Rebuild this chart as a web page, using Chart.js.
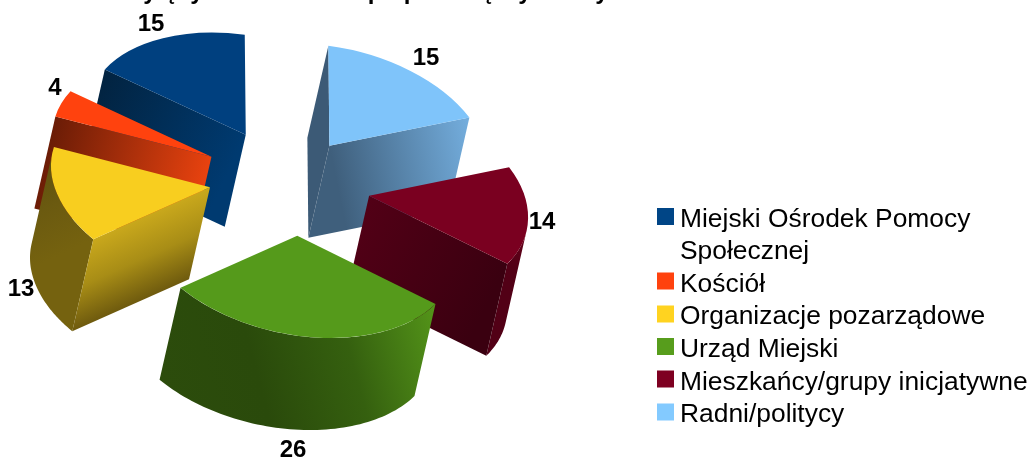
<!DOCTYPE html>
<html><head><meta charset="utf-8">
<style>html,body{margin:0;padding:0;background:#fff}canvas{display:block}</style>
<script src="https://cdn.jsdelivr.net/npm/chart.js@4"></script></head>
<body><canvas id="c" width="1030" height="459"></canvas>
<script>
const categories=["Miejski Ośrodek Pomocy Społecznej","Kościół","Organizacje pozarządowe","Urząd Miejski","Mieszkańcy/grupy inicjatywne","Radni/politycy"];
const values=[15,4,13,26,14,15];
const colors=["#004586","#ff420e","#ffd320","#579d1c","#7e0021","#83caff"];
const legendLines=[["Miejski Ośrodek Pomocy","Społecznej"],["Kościół"],["Organizacje pozarządowe"],["Urząd Miejski"],["Mieszkańcy/grupy inicjatywne"],["Radni/politycy"]];
// only the descenders of the cropped title remain visible in the picture
const titleFragments=[["y",150],["ę",170],["y",197],["p",375],["p",411],["ę",487],["y",525],["y",602]];

// single view projection of the pie: plane -> screen (mirrored, tilted)
const view={a:-159,b:-21,c:1,d:100,ex:288,ey:184,explode:0.51,depthX:-21,depthY:92};
const labelAt=[[151,24],[55,88],[21,289],[293,450],[542,222],[426,58]];
const topShade=["#00407f","#ff420e","#f8ce1f","#559a1b","#7a0020","#7fc4fa"];
const sideShade=[
 {end:["#022340","#003a70"],start:["#00305c","#00305c"],outer:["#012a50","#012a50"]},
 {end:["#6a1c06","#e8420f"],start:["#6a1c06","#e8420f"],outer:["#7a2008","#7a2008"]},
 {end:["#c9a81c","#a88d16","#6e5a0e"],start:["#7a640e","#7a640e"],outer:["#5e4e0e","#6b5a10","#75620f"],depthFace:true},
 {end:["#2c4c0c","#2c4c0c"],start:["#2c4c0c","#2c4c0c"],outer:["#2c4c0c","#2a4a0b","#35600f","#549519"],fromBottom:true},
 {end:["#3a0010","#520016"],start:["#3a0010","#520016"],outer:["#520016","#660019"]},
 {end:["#3c5a76","#3c5a76"],start:["#74aede","#3f5f7c"],outer:["#74aede","#74aede"]}
];
const drawOrder=[0,5,1,2,4,3];
const legendRows=[[216.5,220,252],[281,285],[314,317],[346.5,350],[379,383],[412,415]];

function toScreen(arc){
 const R=arc.outerRadius,m=(arc.startAngle+arc.endAngle)/2;
 return {R,p:(x,y)=>{const u=(x-arc.x)/R+Math.cos(m)*view.explode,v=(y-arc.y)/R+Math.sin(m)*view.explode;
  return [view.ex+view.a*u+view.c*v,view.ey+view.b*u+view.d*v];}};
}
function gradient(ctx,q,r,stops){
 const g=ctx.createLinearGradient(q[0],q[1],r[0],r[1]);
 stops.forEach((c,j)=>g.addColorStop(stops.length>1?j/(stops.length-1):0,c));
 return g;
}
function fillBand(ctx,run,fill){
 const D=[view.depthX,view.depthY];
 ctx.beginPath();ctx.moveTo(run[0][0],run[0][1]);
 run.slice(1).forEach(q=>ctx.lineTo(q[0],q[1]));
 run.slice().reverse().forEach(q=>ctx.lineTo(q[0]+D[0],q[1]+D[1]));
 ctx.closePath();ctx.fillStyle=fill;ctx.fill();
}
const pie3d={id:'pie3d',
 beforeDatasetDraw(chart){
  const ctx=chart.ctx,meta=chart.getDatasetMeta(0),D=[view.depthX,view.depthY];
  drawOrder.forEach(i=>{
   const arc=meta.data[i],{p,R}=toScreen(arc),N=64,pts=[];
   for(let s=0;s<=N;s++){const t=arc.startAngle+(arc.endAngle-arc.startAngle)*s/N;pts.push(p(arc.x+R*Math.cos(t),arc.y+R*Math.sin(t)));}
   const apex=p(arc.x,arc.y),poly=[apex,...pts];
   let area=0;poly.forEach((q,j)=>{const r=poly[(j+1)%poly.length];area+=q[0]*r[1]-r[0]*q[1];});
   const sgn=area>0?1:-1;
   const vis=(q,r)=>sgn*((r[1]-q[1])*D[0]-(r[0]-q[0])*D[1])>0;
   const sh=sideShade[i];
   // outer curved face, one band per contiguous visible run
   let run=[];
   const flush=()=>{
    if(run.length>1){
     const a=sh.fromBottom?[run[0][0]+D[0],run[0][1]+D[1]]:run[0];
     fillBand(ctx,run,gradient(ctx,a,run[run.length-1],sh.outer));
    }
    run=[];
   };
   for(let j=0;j<N;j++){if(vis(pts[j],pts[j+1])){if(!run.length)run.push(pts[j]);run.push(pts[j+1]);}else flush();}
   flush();
   // flat cut faces
   const first=pts[0],last=pts[N];
   if(vis(apex,first))fillBand(ctx,[apex,first],gradient(ctx,first,apex,sh.start));
   if(vis(last,apex)){
    let a=last,b=apex;
    if(sh.depthFace){ // shade down the face, away from its top edge
     const ex=last[0]-apex[0],ey=last[1]-apex[1],l2=ex*ex+ey*ey,k=(D[0]*ey-D[1]*ex)/l2;
     a=apex;b=[apex[0]+ey*k,apex[1]-ex*k];
    }
    fillBand(ctx,[last,apex],gradient(ctx,a,b,sh.end));
   }
   // top face: the library's own arc element, drawn through the view
   ctx.save();
   const o=p(arc.x,arc.y);
   ctx.translate(o[0],o[1]);ctx.transform(view.a/R,view.b/R,view.c/R,view.d/R,0,0);ctx.translate(-arc.x,-arc.y);
   const saved=arc.options.backgroundColor;
   arc.options.backgroundColor=topShade[i];
   arc.draw(ctx);
   arc.options.backgroundColor=saved;
   ctx.restore();
  });
  return false;
 },
 afterDatasetsDraw(chart){
  const ctx=chart.ctx;
  ctx.save();ctx.font='bold 24px "Liberation Sans"';ctx.fillStyle='#000';ctx.textAlign='center';ctx.textBaseline='middle';
  values.forEach((v,i)=>ctx.fillText(String(v),labelAt[i][0],labelAt[i][1]));
  ctx.textBaseline='alphabetic';
  titleFragments.forEach(f=>ctx.fillText(f[0],f[1],-1));
  ctx.textBaseline='middle';
  ctx.textAlign='left';ctx.font='26.4px "Liberation Sans"';
  legendLines.forEach((ls,i)=>{
   ctx.fillStyle=colors[i];ctx.fillRect(657,legendRows[i][0]-8.5,17,17);
   ctx.fillStyle='#000';
   ls.forEach((t,j)=>ctx.fillText(t,680,legendRows[i][j+1]));
  });
  ctx.restore();
 }};
new Chart(document.getElementById('c'),{type:'pie',
 data:{labels:categories,datasets:[{data:values,backgroundColor:colors,borderWidth:0}]},
 options:{responsive:false,animation:false,
  plugins:{legend:{display:false},tooltip:{enabled:false}}},
 plugins:[pie3d]});
</script></body></html>
